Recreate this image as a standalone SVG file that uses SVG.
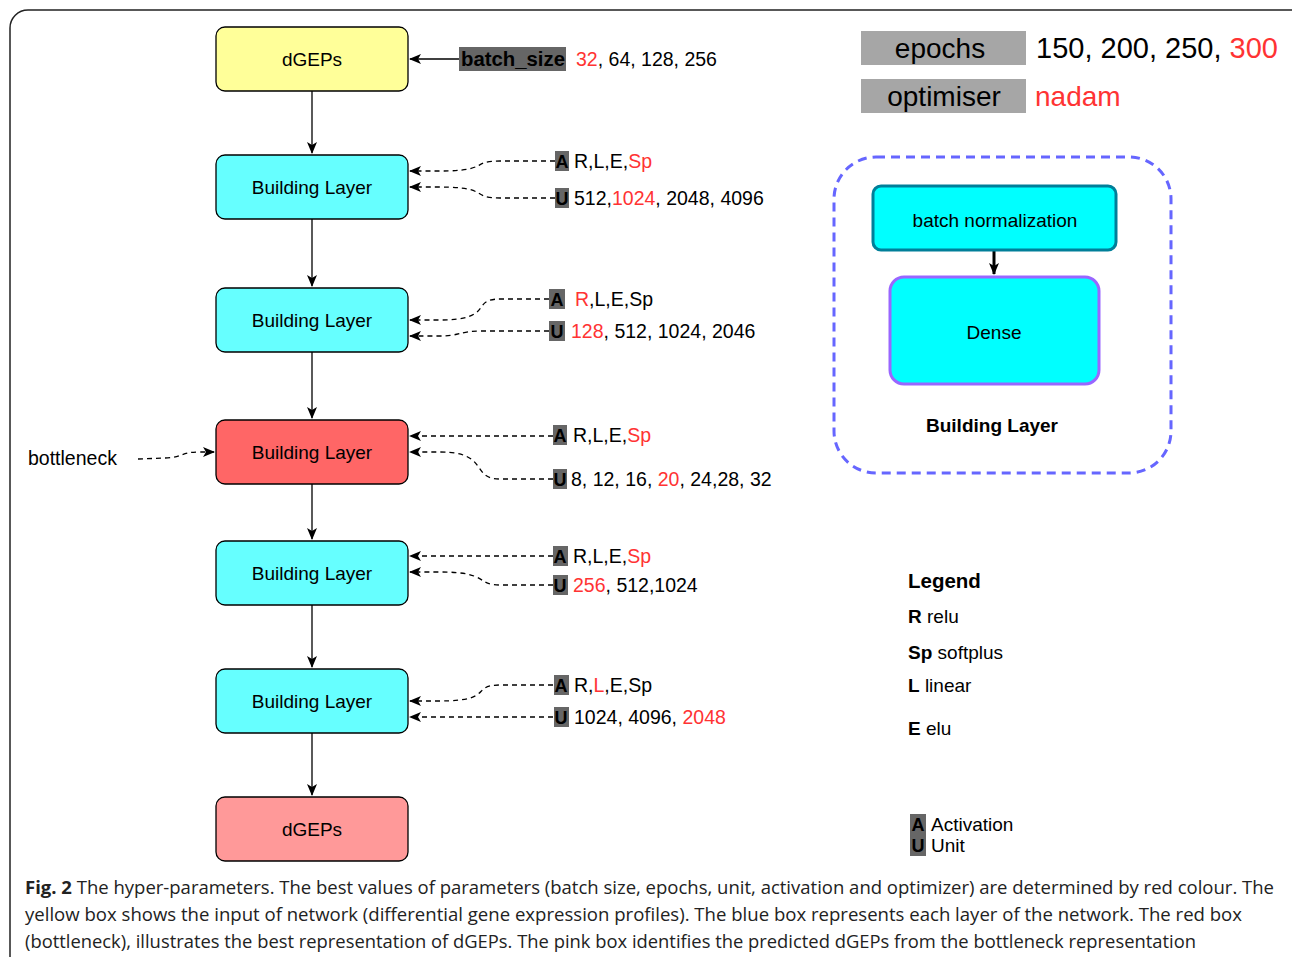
<svg xmlns="http://www.w3.org/2000/svg" width="1292" height="957" viewBox="0 0 1292 957">
<defs>
<marker id="ah" viewBox="0 0 12 10" refX="11" refY="5" markerWidth="12" markerHeight="10" markerUnits="userSpaceOnUse" orient="auto">
<path d="M0,0 L12,5 L0,10 L3,5 z" fill="#000"/>
</marker>
<style>
text{font-family:"Liberation Sans",Arial,sans-serif;fill:#000}
.node{stroke:#000;stroke-width:1.3}
.nt{font-size:19px;text-anchor:middle}
.sol{fill:none;stroke:#000;stroke-width:1.3}
.dash{fill:none;stroke:#000;stroke-width:1.3;stroke-dasharray:5,4}
.tag{fill:#666}
.tl{font-size:18px;font-weight:bold;text-anchor:middle}
.val{font-size:19.5px}
.red{fill:#ff3333}
.cap{font-family:"Open Sans","Liberation Sans",sans-serif;font-size:18px;fill:#222}
</style>
</defs>
<rect x="0" y="0" width="1292" height="957" fill="#fff"/>
<rect x="10" y="10" width="1300" height="990" rx="18" fill="none" stroke="#222" stroke-width="1.5"/>

<g id="connectors">
<line class="sol" x1="312" y1="91" x2="312" y2="153" marker-end="url(#ah)"/>
<line class="sol" x1="312" y1="219" x2="312" y2="286" marker-end="url(#ah)"/>
<line class="sol" x1="312" y1="352" x2="312" y2="418" marker-end="url(#ah)"/>
<line class="sol" x1="312" y1="484" x2="312" y2="539" marker-end="url(#ah)"/>
<line class="sol" x1="312" y1="605" x2="312" y2="667" marker-end="url(#ah)"/>
<line class="sol" x1="312" y1="733" x2="312" y2="795" marker-end="url(#ah)"/>
<line class="sol" x1="459" y1="59" x2="410" y2="59" marker-end="url(#ah)"/>
<path class="dash" d="M555,161 L500,161 C470,161 490,171 440,171 L410,171" marker-end="url(#ah)"/>
<path class="dash" d="M555,198 L500,198 C470,198 490,187 440,187 L410,187" marker-end="url(#ah)"/>
<path class="dash" d="M549,299 L500,299 C470,299 495,320 440,320 L410,320" marker-end="url(#ah)"/>
<path class="dash" d="M549,331 L480,331 C460,331 460,336 440,336 L410,336" marker-end="url(#ah)"/>
<path class="dash" d="M553,436 L410,436" marker-end="url(#ah)"/>
<path class="dash" d="M553,479 L500,479 C470,479 490,452 440,452 L410,452" marker-end="url(#ah)"/>
<path class="dash" d="M553,556 L410,556" marker-end="url(#ah)"/>
<path class="dash" d="M553,585 L500,585 C475,585 490,572 440,572 L410,572" marker-end="url(#ah)"/>
<path class="dash" d="M553,685 L500,685 C470,685 495,701 440,701 L410,701" marker-end="url(#ah)"/>
<path class="dash" d="M553,717 L410,717" marker-end="url(#ah)"/>
<path class="dash" d="M138,459 L165,458 C185,457 180,452 200,452 L214,452" marker-end="url(#ah)"/>
<line x1="994" y1="250" x2="994" y2="274" stroke="#000" stroke-width="3" marker-end="url(#ah)"/>
</g>

<g id="n_input"><rect class="node" x="216" y="27" width="192" height="64" rx="9" fill="#ffff99"/><text class="nt" x="312" y="66">dGEPs</text></g>
<g id="n_bl1"><rect class="node" x="216" y="155" width="192" height="64" rx="9" fill="#66ffff"/><text class="nt" x="312" y="194">Building Layer</text></g>
<g id="n_bl2"><rect class="node" x="216" y="288" width="192" height="64" rx="9" fill="#66ffff"/><text class="nt" x="312" y="327">Building Layer</text></g>
<g id="n_bottleneck"><rect class="node" x="216" y="420" width="192" height="64" rx="9" fill="#ff6666"/><text class="nt" x="312" y="459">Building Layer</text></g>
<g id="n_bl4"><rect class="node" x="216" y="541" width="192" height="64" rx="9" fill="#66ffff"/><text class="nt" x="312" y="580">Building Layer</text></g>
<g id="n_bl5"><rect class="node" x="216" y="669" width="192" height="64" rx="9" fill="#66ffff"/><text class="nt" x="312" y="708">Building Layer</text></g>
<g id="n_output"><rect class="node" x="216" y="797" width="192" height="64" rx="9" fill="#ff9999"/><text class="nt" x="312" y="836">dGEPs</text></g>

<g id="batch">
<rect class="tag" x="459" y="47" width="107" height="24"/>
<text x="461" y="66" font-size="20" font-weight="bold" textLength="104" lengthAdjust="spacingAndGlyphs">batch_size</text>
<text x="576" y="66" class="val"><tspan class="red">32</tspan>, 64, 128, 256</text>
</g>

<g id="params1">
<rect class="tag" x="555" y="151" width="14" height="20"/><text class="tl" x="562" y="168">A</text>
<text class="val" x="574" y="168">R,L,E,<tspan class="red">Sp</tspan></text>
<rect class="tag" x="555" y="188" width="14" height="20"/><text class="tl" x="562" y="205">U</text>
<text class="val" x="574" y="205">512,<tspan class="red">1024</tspan>, 2048, 4096</text>
</g>
<g id="params2">
<rect class="tag" x="549" y="289" width="16" height="20"/><text class="tl" x="557" y="306">A</text>
<text class="val" x="575" y="306"><tspan class="red">R</tspan>,L,E,Sp</text>
<rect class="tag" x="549" y="321" width="16" height="20"/><text class="tl" x="557" y="338">U</text>
<text class="val" x="571" y="338"><tspan class="red">128</tspan>, 512, 1024, 2046</text>
</g>
<g id="params3">
<rect class="tag" x="553" y="425" width="14" height="20"/><text class="tl" x="560" y="442">A</text>
<text class="val" x="573" y="442">R,L,E,<tspan class="red">Sp</tspan></text>
<rect class="tag" x="553" y="469" width="14" height="20"/><text class="tl" x="560" y="486">U</text>
<text class="val" x="571" y="486">8, 12, 16, <tspan class="red">20</tspan>, 24,28, 32</text>
</g>
<g id="params4">
<rect class="tag" x="553" y="546" width="15" height="20"/><text class="tl" x="560" y="563">A</text>
<text class="val" x="573" y="563">R,L,E,<tspan class="red">Sp</tspan></text>
<rect class="tag" x="553" y="575" width="15" height="20"/><text class="tl" x="560" y="592">U</text>
<text class="val" x="573" y="592"><tspan class="red">256</tspan>, 512,1024</text>
</g>
<g id="params5">
<rect class="tag" x="554" y="675" width="15" height="20"/><text class="tl" x="561" y="692">A</text>
<text class="val" x="574" y="692">R,<tspan class="red">L</tspan>,E,Sp</text>
<rect class="tag" x="554" y="707" width="15" height="20"/><text class="tl" x="561" y="724">U</text>
<text class="val" x="574" y="724">1024, 4096, <tspan class="red">2048</tspan></text>
</g>

<g id="bottleneck_label"><text x="28" y="465" font-size="19.5">bottleneck</text></g>

<g id="epochs">
<rect x="861" y="31" width="165" height="34" fill="#a6a6a6"/>
<text x="940" y="58" font-size="28" text-anchor="middle">epochs</text>
<text x="1036" y="58" font-size="29">150, 200, 250, <tspan class="red">300</tspan></text>
</g>
<g id="optimiser">
<rect x="861" y="79" width="165" height="34" fill="#a6a6a6"/>
<text x="944" y="106" font-size="28" text-anchor="middle">optimiser</text>
<text x="1035" y="106" font-size="28" class="red">nadam</text>
</g>

<g id="building_layer_detail">
<rect x="834" y="157" width="337" height="316" rx="42" fill="none" stroke="#6666ff" stroke-width="3" stroke-dasharray="9,6"/>
<g id="n_batchnorm"><rect x="873" y="186" width="243" height="64" rx="8" fill="#00ffff" stroke="#007f99" stroke-width="3"/><text x="995" y="227" font-size="19" text-anchor="middle">batch normalization</text></g>
<g id="n_dense"><rect x="890" y="277" width="209" height="107" rx="14" fill="#00ffff" stroke="#9966ff" stroke-width="3"/><text x="994" y="339" font-size="19" text-anchor="middle">Dense</text></g>
<text x="992" y="432" font-size="19" font-weight="bold" text-anchor="middle">Building Layer</text>
</g>

<g id="legend">
<text x="908" y="588" font-size="20.5" font-weight="bold">Legend</text>
<text x="908" y="623" font-size="19"><tspan font-weight="bold">R</tspan>  relu</text>
<text x="908" y="659" font-size="19"><tspan font-weight="bold">Sp</tspan> softplus</text>
<text x="908" y="692" font-size="19"><tspan font-weight="bold">L</tspan> linear</text>
<text x="908" y="735" font-size="19"><tspan font-weight="bold">E</tspan> elu</text>
<rect class="tag" x="910" y="814" width="16" height="42"/>
<text class="tl" x="918" y="831">A</text>
<text class="tl" x="918" y="852">U</text>
<text x="931" y="831" font-size="19">Activation</text>
<text x="931" y="852" font-size="19">Unit</text>
</g>

<g id="caption">
<text class="cap" x="25" y="894" textLength="1249" lengthAdjust="spacingAndGlyphs"><tspan font-weight="bold">Fig. 2</tspan> The hyper-parameters. The best values of parameters (batch size, epochs, unit, activation and optimizer) are determined by red colour. The</text>
<text class="cap" x="25" y="921" textLength="1217" lengthAdjust="spacingAndGlyphs">yellow box shows the input of network (differential gene expression profiles). The blue box represents each layer of the network. The red box</text>
<text class="cap" x="25" y="948" textLength="1171" lengthAdjust="spacingAndGlyphs">(bottleneck), illustrates the best representation of dGEPs. The pink box identifies the predicted dGEPs from the bottleneck representation</text>
</g>
</svg>
